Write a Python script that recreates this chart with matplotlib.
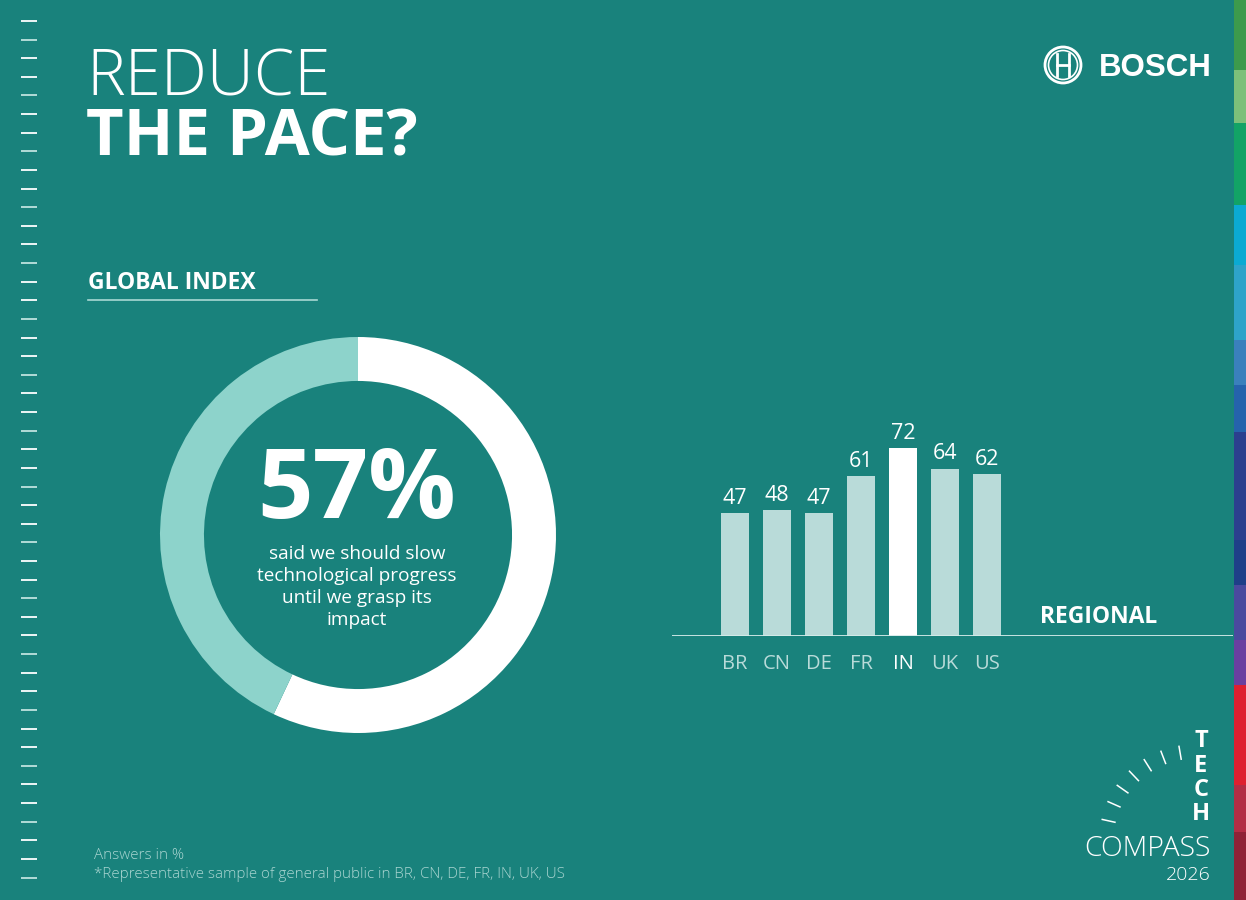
import numpy as np
import matplotlib.pyplot as plt
from matplotlib.patches import Circle, Rectangle

# data
global_share = [57, 43]
countries = ['BR', 'CN', 'DE', 'FR', 'IN', 'UK', 'US']
regional = [47, 48, 47, 61, 72, 64, 62]
highlight = 'IN'

# colours
BG = '#19827C'
RING_LIGHT = '#8DD3CB'
BAR_LIGHT = '#B9DBD9'
WHITE = '#FFFFFF'
FONT = 'Open Sans'

W, H = 1246, 900
fig = plt.figure(figsize=(W / 100, H / 100), dpi=100, facecolor=BG)


def fx(x):
    return x / W


def fy(y):
    return 1 - y / H


# overlay axes in pixel coordinates for decoration
deco = fig.add_axes([0, 0, 1, 1])
deco.set_xlim(0, W)
deco.set_ylim(H, 0)
deco.axis('off')
deco.patch.set_alpha(0)

# left ruler ticks
for i in range(47):
    y = 21 + i * 18.62
    c = WHITE if i % 3 != 1 else '#BFE3DF'
    deco.plot([21, 37], [y, y], color=c, lw=1.3, solid_capstyle='butt')

# right colour strip
strip = [(0, 70, '#3D9A4C'), (70, 123, '#7CC07A'), (123, 205, '#12A366'),
         (205, 265, '#0BAAD2'), (265, 340, '#2EA3C9'), (340, 385, '#3A80BC'),
         (385, 432, '#2563AC'), (432, 540, '#2B3F8E'), (540, 585, '#1E3F88'),
         (585, 640, '#4A4A9E'), (640, 685, '#6A3FA0'), (685, 785, '#DE2030'),
         (785, 832, '#B22D45'), (832, 900, '#8E2236')]
for y0, y1, c in strip:
    deco.add_patch(Rectangle((1234, y0), 12, y1 - y0, color=c, lw=0))

# title
fig.text(fx(86), fy(96), 'REDUCE', fontsize=47, fontweight='light', family=FONT,
         color=WHITE, va='baseline')
fig.text(fx(86), fy(156), 'THE PACE?', fontsize=47, fontweight='bold', family=FONT,
         color=WHITE, va='baseline')

# BOSCH logo
deco.add_patch(Circle((1063, 65), 18, fill=False, ec=WHITE, lw=2))
deco.add_patch(Circle((1063, 65), 14.5, fill=False, ec=WHITE, lw=1.2))
deco.plot([1057, 1057], [54, 76], color=WHITE, lw=2)
deco.plot([1069, 1069], [54, 76], color=WHITE, lw=2)
deco.plot([1057, 1069], [65, 65], color=WHITE, lw=2)
fig.text(fx(1099), fy(76), 'BOSCH', fontsize=22.5, fontweight='bold', family='Liberation Sans',
         color=WHITE, va='baseline')

# global index header
fig.text(fx(88), fy(289), 'GLOBAL INDEX', fontsize=16.5, fontweight='bold', family=FONT,
         color=WHITE, va='baseline')
deco.plot([88, 317], [300, 300], color='#A9D9D4', lw=1.2)

# donut
pie_ax = fig.add_axes([fx(160), fy(733), fx(396), 396 / H])
pie_ax.pie(global_share, startangle=90, counterclock=False, colors=[WHITE, RING_LIGHT],
           radius=1, wedgeprops=dict(width=0.222, linewidth=0))
pie_ax.set_xlim(-1, 1)
pie_ax.set_ylim(-1, 1)
pie_ax.set_aspect('equal')
pie_ax.axis('off')

fig.text(fx(357), fy(518), f'{global_share[0]}%', fontsize=70, fontweight='bold', family=FONT,
         color=WHITE, ha='center', va='baseline')
fig.text(fx(357), fy(587), 'said we should slow\ntechnological progress\nuntil we grasp its\nimpact',
         fontsize=13.7, family=FONT, color=WHITE, ha='center', va='center', linespacing=1.3)

# regional bars
bar_ax = fig.add_axes([fx(672), fy(636), fx(1233 - 672), (636 - 400) / H])
bar_ax.patch.set_alpha(0)
colors = [WHITE if c == highlight else BAR_LIGHT for c in countries]
x = np.arange(len(countries))
bars = bar_ax.bar(x, regional, width=0.667, color=colors, lw=0)
bar_ax.bar_label(bars, padding=3, fontsize=15.5, color=WHITE, family=FONT)
bar_ax.set_xlim(-1.5, (1233 - 735) / 42)
bar_ax.set_ylim(0, (636 - 400) / 2.615)
bar_ax.axhline(0, color='#D5ECEA', lw=1.3)
for s in bar_ax.spines.values():
    s.set_visible(False)
bar_ax.set_yticks([])
bar_ax.set_xticks(x)
bar_ax.set_xticklabels(countries, fontsize=14.5, family=FONT)
bar_ax.tick_params(axis='x', length=0, pad=13)
for lab, c in zip(bar_ax.get_xticklabels(), countries):
    lab.set_color(WHITE if c == highlight else BAR_LIGHT)

fig.text(fx(1040), fy(623), 'REGIONAL', fontsize=16.5, fontweight='bold', family=FONT,
         color=WHITE, va='baseline')

# tech compass mark
for k, ch in enumerate('TECH'):
    fig.text(fx(1201), fy(741 + k * 24.5), ch, fontsize=17, fontweight='bold', family=FONT,
             color=WHITE, ha='center', va='center')
for k in range(7):
    a = np.deg2rad(167.5 - k * 11.3)
    r0, r1 = 82, 95
    deco.plot([1195 + r0 * np.cos(a), 1195 + r1 * np.cos(a)],
              [840 - r0 * np.sin(a), 840 - r1 * np.sin(a)], color=WHITE, lw=1.1)
fig.text(fx(1211), fy(856), 'COMPASS', fontsize=20.5, fontweight='light', family=FONT,
         color=WHITE, ha='right', va='baseline')
fig.text(fx(1211), fy(880), '2026', fontsize=14, fontweight='light', family=FONT,
         color=WHITE, ha='right', va='baseline')

# footnotes
fig.text(fx(94), fy(859), 'Answers in %', fontsize=10.9, fontweight='light', family=FONT,
         color='#A9D5D1', va='baseline')
fig.text(fx(94), fy(878), '*Representative sample of general public in BR, CN, DE, FR, IN, UK, US',
         fontsize=10.9, fontweight='light', family=FONT, color='#A9D5D1', va='baseline')

fig.savefig('out.png', dpi=100, facecolor=BG)
